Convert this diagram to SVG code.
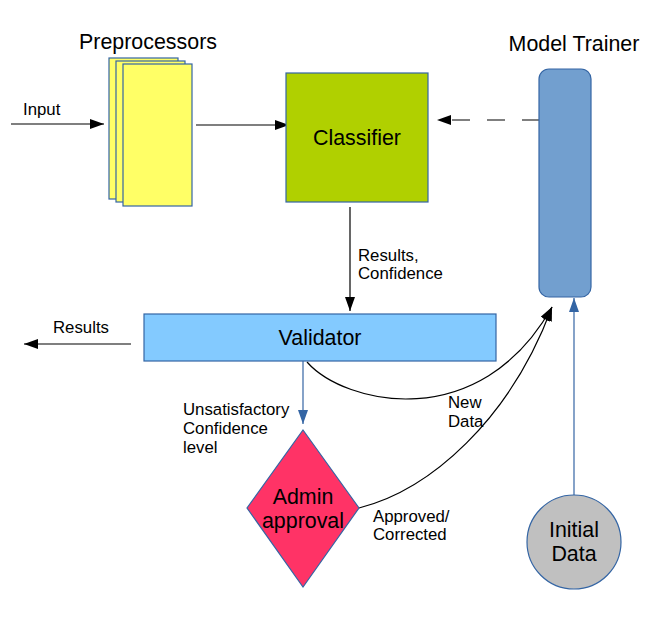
<svg xmlns="http://www.w3.org/2000/svg" width="651" height="618" viewBox="0 0 651 618">
<defs>
<style>
text{font-family:"Liberation Sans",Arial,sans-serif;fill:#000}
.t20{font-size:21.4px}
.t15{font-size:16.8px}
.box{stroke:#3465a4;stroke-width:1.2}
.cn{fill:none;stroke:#000;stroke-width:1.2}
</style>
<marker id="ah" viewBox="0 0 14 10" refX="14" refY="5" markerWidth="14" markerHeight="10" markerUnits="userSpaceOnUse" orient="auto">
<path d="M0,0 L14,5 L0,10 Z" fill="#000"/>
</marker>
<marker id="ahb" viewBox="0 0 14 10" refX="14" refY="5" markerWidth="14" markerHeight="10" markerUnits="userSpaceOnUse" orient="auto">
<path d="M0,0 L14,5 L0,10 Z" fill="#3465a4"/>
</marker>
</defs>
<rect width="651" height="618" fill="#fff"/>
<g id="connectors">
<line class="cn" x1="11" y1="124" x2="104" y2="124" marker-end="url(#ah)"/>
<line class="cn" x1="196" y1="125" x2="289" y2="125" marker-end="url(#ah)"/>
<line class="cn" x1="540" y1="120" x2="437" y2="120" stroke-dasharray="18,17" marker-end="url(#ah)"/>
<line class="cn" x1="350" y1="207" x2="350" y2="311" marker-end="url(#ah)"/>
<line class="cn" x1="131" y1="344" x2="24" y2="344" marker-end="url(#ah)"/>
<line x1="303" y1="361" x2="303" y2="424" fill="none" stroke="#3465a4" stroke-width="1.2" marker-end="url(#ahb)"/>
<path class="cn" d="M307,362 C345,405 480,435 552,307" marker-end="url(#ah)"/>
<path class="cn" d="M359,508 C430,490 510,420 552,307" marker-end="url(#ah)"/>
<line x1="574" y1="495" x2="574" y2="298" fill="none" stroke="#3465a4" stroke-width="1.2" marker-end="url(#ahb)"/>
<text class="t15" x="23" y="115">Input</text>
<text class="t15" x="358" y="261">Results,</text>
<text class="t15" x="358" y="279">Confidence</text>
<text class="t15" x="53" y="333">Results</text>
<text class="t15" x="183" y="415">Unsatisfactory</text>
<text class="t15" x="183" y="434">Confidence</text>
<text class="t15" x="183" y="453">level</text>
<text class="t15" x="448" y="408">New</text>
<text class="t15" x="448" y="427">Data</text>
<text class="t15" x="373" y="522">Approved/</text>
<text class="t15" x="373" y="540">Corrected</text>
</g>
<g id="preprocessors">
<rect class="box" x="109" y="58" width="69" height="141" fill="#ffff66"/>
<rect class="box" x="116" y="61" width="69" height="141" fill="#ffff66"/>
<rect class="box" x="123" y="64" width="69" height="142" fill="#ffff66"/>
<text class="t20" x="148" y="49" text-anchor="middle">Preprocessors</text>
</g>
<g id="classifier">
<rect class="box" x="286" y="73" width="142" height="129" fill="#b0d000"/>
<text class="t20" x="357" y="145" text-anchor="middle">Classifier</text>
</g>
<g id="model-trainer">
<rect class="box" x="539" y="69" width="52" height="228" rx="10" fill="#729fcf"/>
<text class="t20" x="574" y="51" text-anchor="middle">Model Trainer</text>
</g>
<g id="validator">
<rect class="box" x="144" y="314" width="352" height="47" fill="#83caff"/>
<text class="t20" x="320" y="345" text-anchor="middle">Validator</text>
</g>
<g id="admin-approval">
<path class="box" d="M303,430 L359,508 L303,587 L247,508 Z" fill="#ff3366"/>
<text class="t20" x="303" y="504" text-anchor="middle">Admin</text>
<text class="t20" x="303" y="528" text-anchor="middle">approval</text>
</g>
<g id="initial-data">
<circle class="box" cx="574" cy="542" r="47" fill="#c0c0c0"/>
<text class="t20" x="574" y="537" text-anchor="middle">Initial</text>
<text class="t20" x="574" y="561" text-anchor="middle">Data</text>
</g>
</svg>
